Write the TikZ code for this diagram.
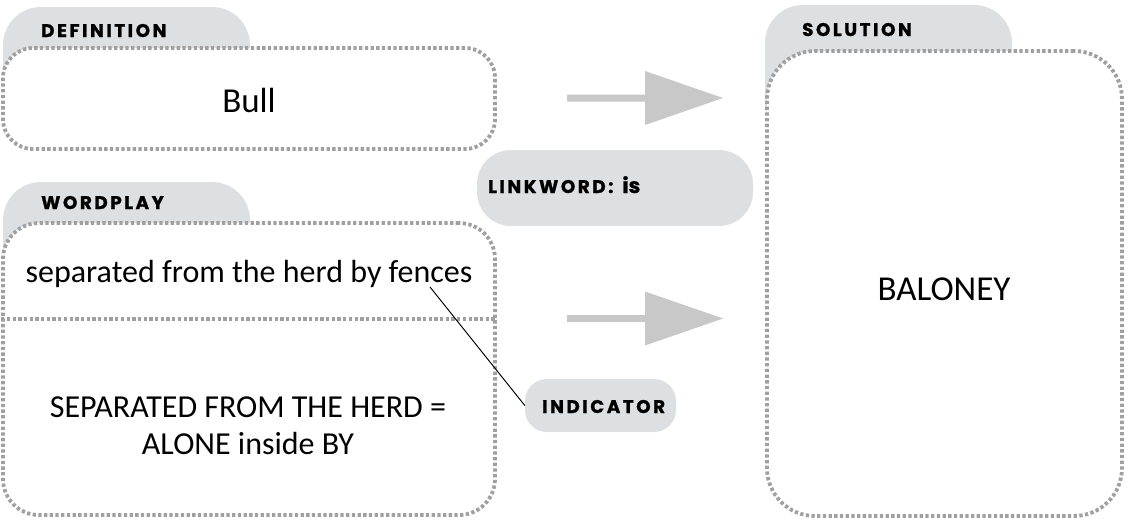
\documentclass[tikz,border=0pt]{standalone}
\usepackage{fontspec}
\setmainfont{Carlito}
\newfontfamily\labfont{Poppins}[LetterSpace=14, BoldFeatures={FakeBold=1.2}]
\newfontfamily\labplain{Poppins}[BoldFeatures={FakeBold=1.2}]
\definecolor{tabgrey}{HTML}{DDE0E3}
\definecolor{dotgrey}{HTML}{A0A0A0}
\definecolor{arrgrey}{HTML}{C8C8C8}
\begin{document}
\begin{tikzpicture}[x=1pt,y=-1pt,
  tab/.style={fill=tabgrey, rounded corners=38pt},
  dotline/.style={draw=dotgrey, line width=3.8pt, dash pattern=on 3.3pt off 2.4pt},
  box/.style={dotline, fill=white, inner sep=0pt},
  pill/.style={fill=tabgrey, inner sep=0pt},
  lab/.style={font=\labfont\bfseries\fontsize{18.3}{20}\selectfont, anchor=base west, inner sep=0pt},
  body/.style={font=\fontsize{#1}{#1}\selectfont, anchor=base, inner sep=0pt},
  bigarrow/.pic={\fill[arrgrey] (0,-3.5) -- (78,-3.5) -- (78,-27) -- (156,0) -- (78,27) -- (78,3.5) -- (0,3.5) -- cycle;}]
\useasboundingbox (0,0) rectangle (1128,520);
\fill[white] (0,0) rectangle (1128,520);
% tabs
\path[tab] (3,7) rectangle (250,130);
\path[tab] (3,182) rectangle (250,300);
\path[tab] (765,5) rectangle (1012,140);
% boxes
\node[box, rounded corners=30pt, minimum width=492pt, minimum height=101pt] (def) at (249,98.5) {};
\node[box, rounded corners=36pt, minimum width=492pt, minimum height=292pt] (wp) at (249,369) {};
\node[box, rounded corners=48pt, minimum width=355pt, minimum height=465pt] (sol) at (944.5,283.5) {};
\coordinate (div) at (0,319);
\draw[dotline] (wp.west |- div) -- (wp.east |- div);
% labels
\node[lab] (deflab) at (41,37) {DEFINITION};
\node[lab] (wplab) at (41,209) {WORDPLAY};
\node[lab] (sollab) at (802,36) {SOLUTION};
% texts
\node[body=35] (bull) at (249,112) {Bull};
\node[body=32] (clue) at (249,282) {separated from the herd by fences};
\node[body=32] (sep1) at (248,417) {SEPARATED FROM THE HERD =};
\node[body=32] (sep2) at (248,454) {ALONE inside BY};
\node[body=35] (ans) at (944,300) {BALONEY};
% arrows
\pic (arr1) at (567,98) {bigarrow};
\pic (arr2) at (567,318.5) {bigarrow};
% linkword
\node[pill, rounded corners=34pt, minimum width=276pt, minimum height=76pt] (link) at (615,188) {};
\node[lab] (linklab) at (488,193) {LINKWORD:\hspace{9pt}{\labplain\bfseries\fontsize{21}{22}\selectfont is}};
% indicator
\node[pill, rounded corners=22pt, minimum width=151pt, minimum height=53pt] (ind) at (600.5,405.5) {};
\node[lab] (indlab) at (542,413) {INDICATOR};
\coordinate (fp) at (430,287);
\draw[line width=1pt] (fp) -- (ind.west);
\end{tikzpicture}
\end{document}
